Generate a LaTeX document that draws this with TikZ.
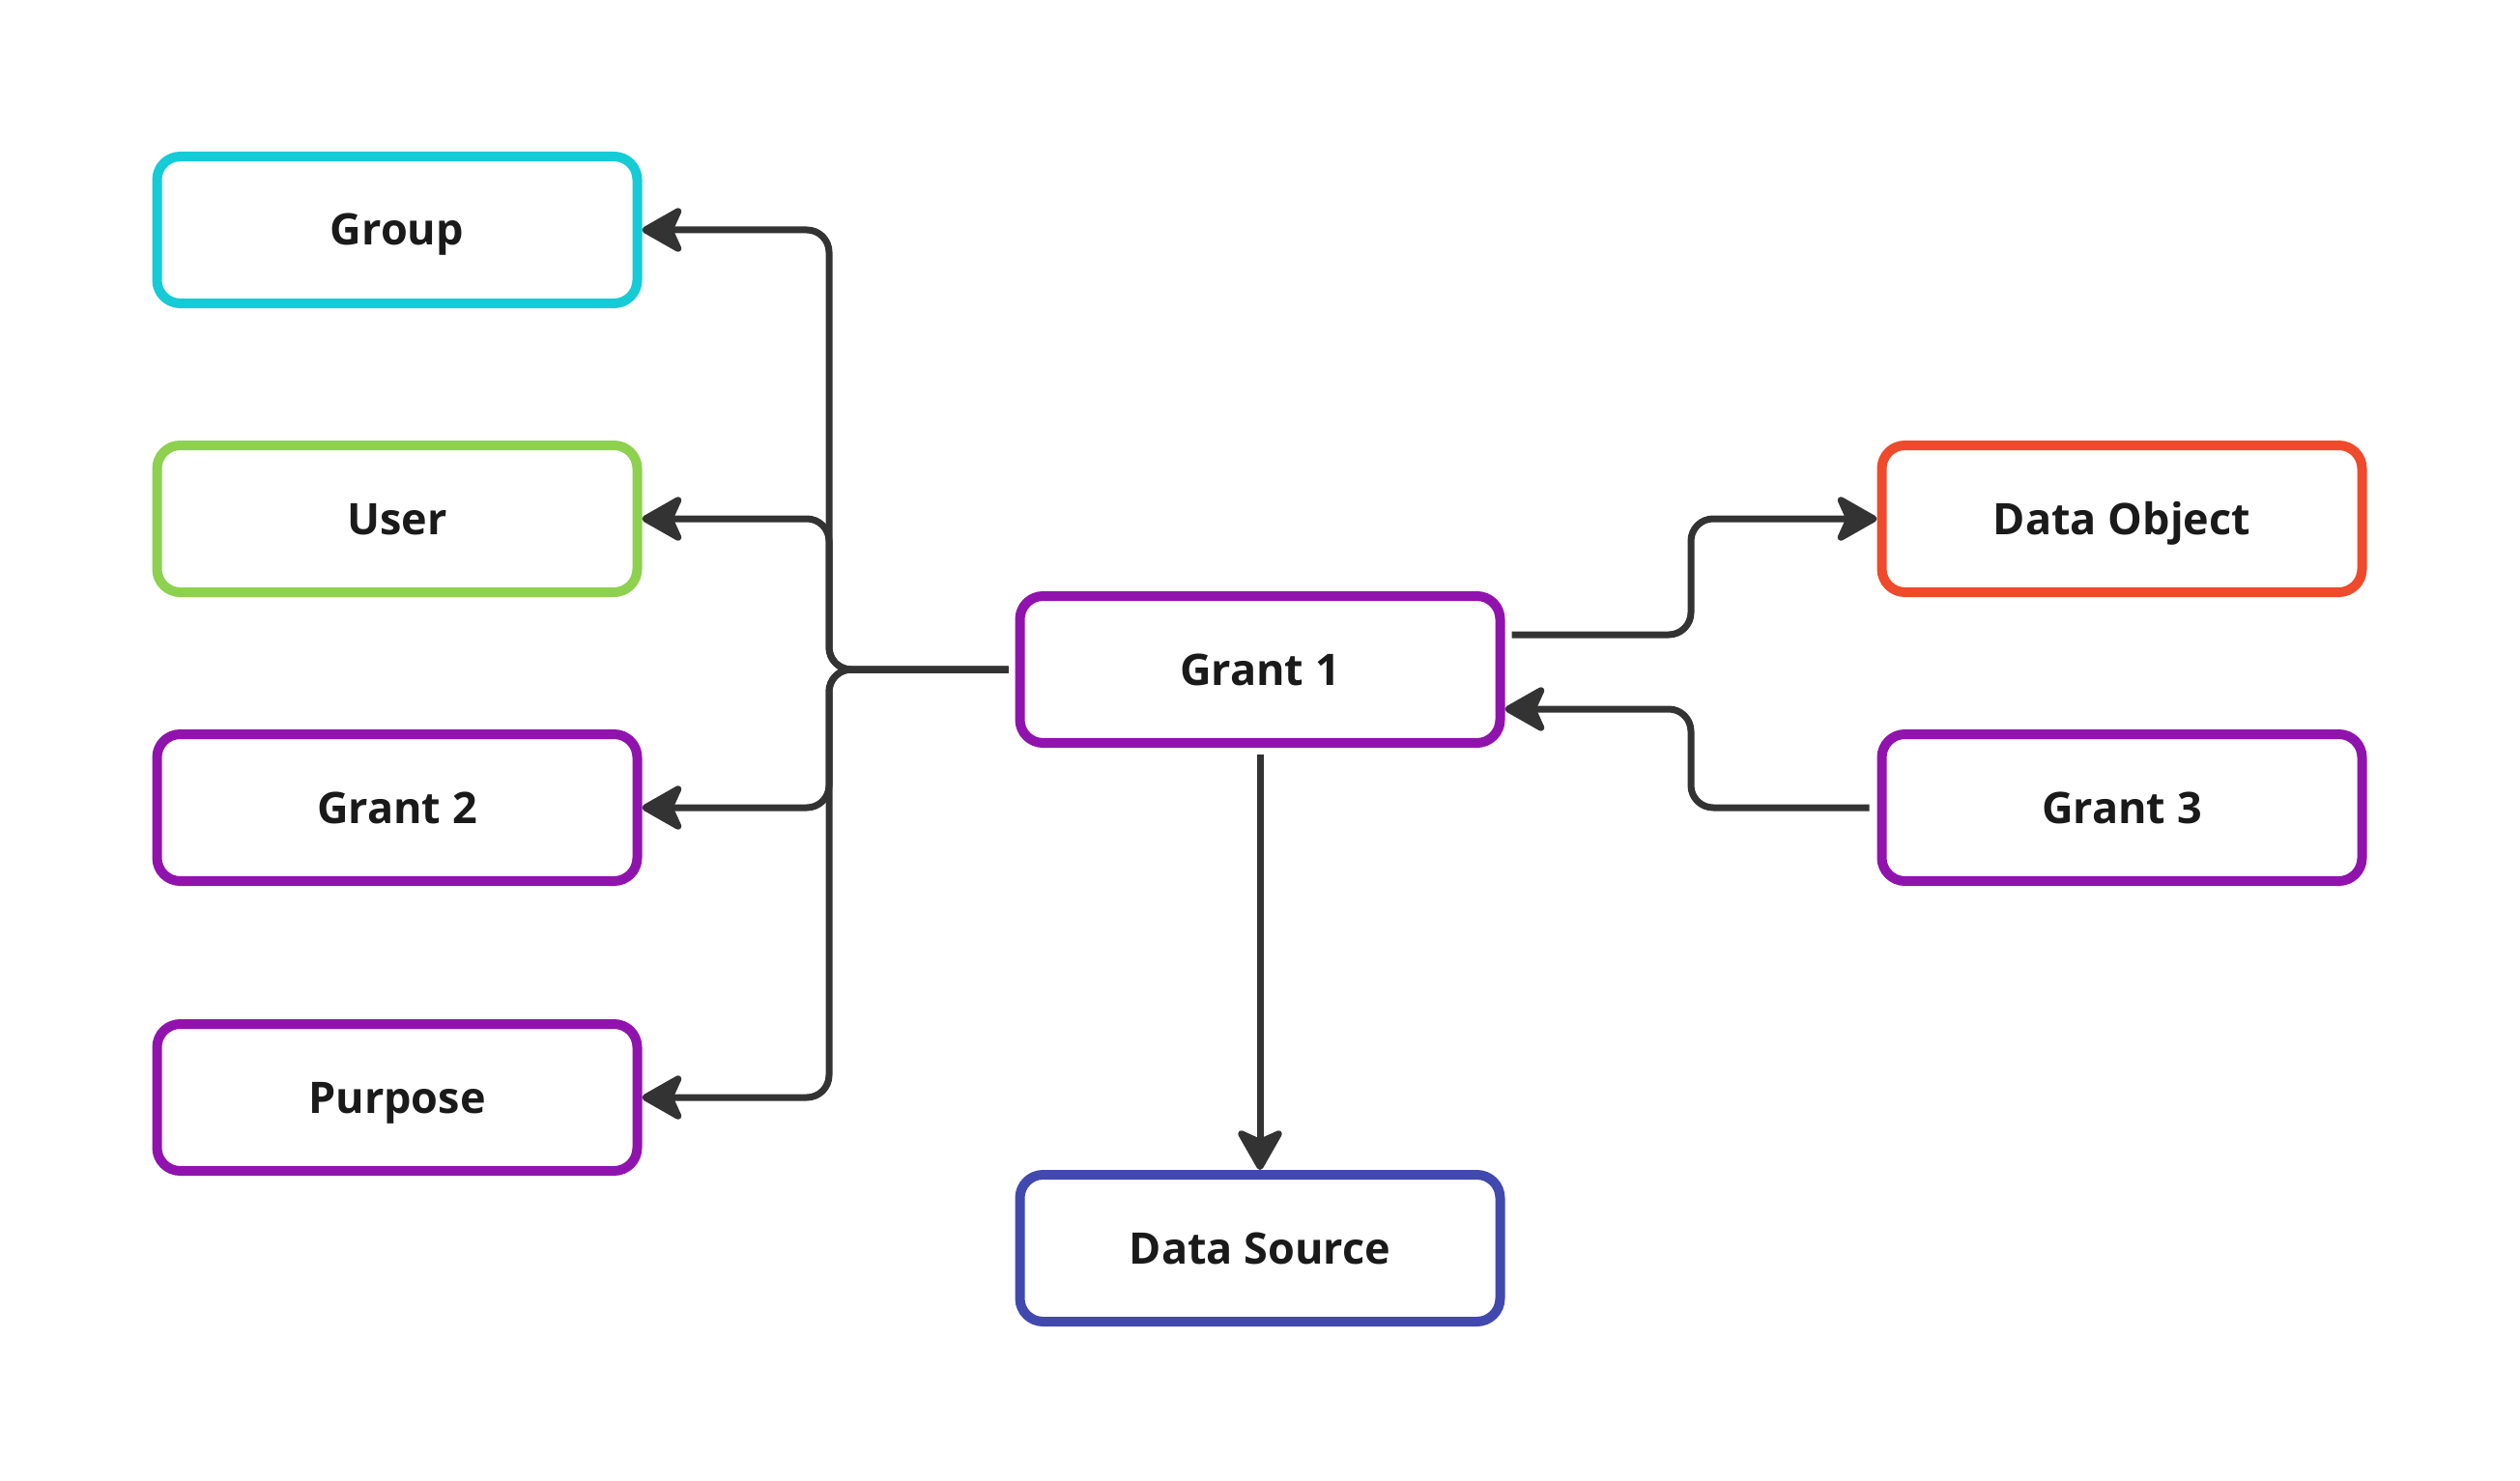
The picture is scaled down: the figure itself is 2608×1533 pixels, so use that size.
\documentclass[tikz,border=0pt]{standalone}
\usepackage{fontspec}
\setmainfont{Open Sans}
\usepackage{xcolor}
\usetikzlibrary{positioning,arrows.meta}
\definecolor{cgroup}{HTML}{15CBD6}
\definecolor{cuser}{HTML}{8DD14F}
\definecolor{cgrant}{HTML}{9113AE}
\definecolor{cobject}{HTML}{EE4A2B}
\definecolor{csource}{HTML}{4249AE}
\definecolor{clink}{HTML}{333333}
\definecolor{ctext}{HTML}{1A1A1A}
\begin{document}
\begin{tikzpicture}[x=1pt,y=-1pt,
  box/.style={draw, line width=10pt, rounded corners=24pt, minimum width=497pt,
    minimum height=152pt, fill=white, text=ctext, text height=40pt, text depth=8pt,
    font=\fontsize{45}{54}\selectfont\bfseries},
  link/.style={draw=clink, line width=7pt, rounded corners=23pt,
    -{Stealth[length=48pt,width=54pt,inset=12pt,round]}}]
\useasboundingbox[fill=white] (0,0) rectangle (2608,1533);
% boxes
\node[box, draw=cgroup] (group) at (411,238) {Group};
\node[box, draw=cuser] (user) at (411,537) {User};
\node[box, draw=cgrant] (granttwo) at (411,836) {Grant 2};
\node[box, draw=cgrant] (purpose) at (411,1136) {Purpose};
\node[box, draw=cgrant] (grantone) at (1304,693) {Grant 1};
\node[box, draw=cobject] (dataobj) at (2196,537) {Data Object};
\node[box, draw=cgrant] (grantthree) at (2196,836) {Grant 3};
\node[box, draw=csource] (datasrc) at (1304,1292) {Data Source};
\coordinate (trunk) at (858,0);
\coordinate (mid) at (1750,0);
\coordinate (start) at ([xshift=-7pt]grantone.west);
\coordinate (outr) at ([xshift=7pt,yshift=36pt]grantone.east);
\coordinate (inr) at ([yshift=-41pt]grantone.east);
% links to the left
\draw[link] (start) -- (trunk |- start) |- (group.east);
\draw[link] (start) -- (trunk |- start) |- (user.east);
\draw[link] (start) -- (trunk |- start) |- (granttwo.east);
\draw[link] (start) -- (trunk |- start) |- (purpose.east);
% links to the right
\draw[link] (outr) -- (mid |- outr) |- (dataobj.west);
\draw[link] ([xshift=-8pt]grantthree.west) -- (mid |- grantthree.west) |- (inr);
\draw[link] ([yshift=-7pt]grantone.south) -- (datasrc.north);
\end{tikzpicture}
\end{document}
